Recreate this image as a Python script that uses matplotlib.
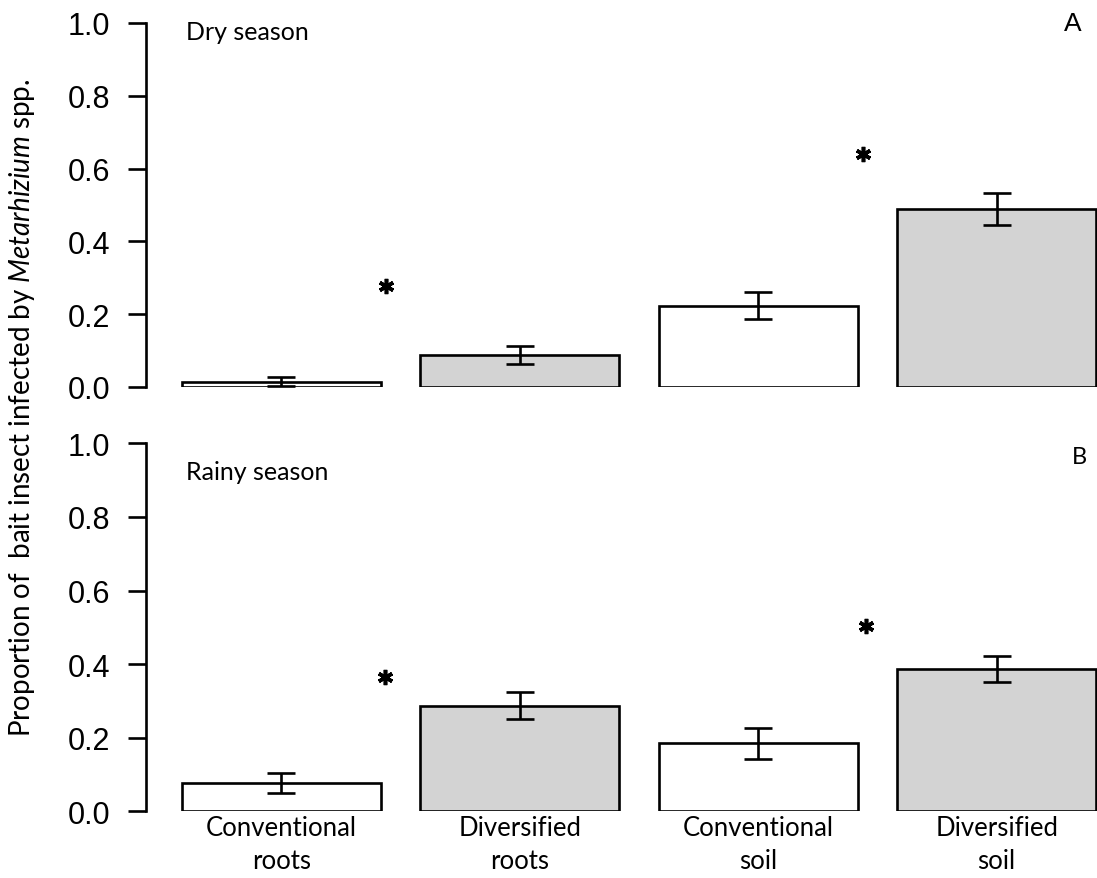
import numpy as np
import matplotlib.pyplot as plt

# bait insect infection by Metarhizium, two seasons, four habitat groups
groups = ['Conventional\nroots', 'Diversified\nroots', 'Conventional\nsoil', 'Diversified\nsoil']
fills = ['white', 'lightgray', 'white', 'lightgray']

dry_mean = [0.015, 0.088, 0.223, 0.489]
dry_se = [0.012, 0.024, 0.037, 0.045]
rainy_mean = [0.076, 0.287, 0.185, 0.386]
rainy_se = [0.027, 0.036, 0.042, 0.035]

# significance stars (x in bar units, y in proportion)
dry_star_x = [1.225, 3.625]
dry_star_y = [0.278, 0.64]
rainy_star_x = [1.22, 3.64]
rainy_star_y = [0.365, 0.503]

plt.rcParams['mathtext.fontset'] = 'custom'
plt.rcParams['mathtext.rm'] = 'Lato'
plt.rcParams['mathtext.it'] = 'Lato:italic'

lab_font = 'Lato'
num_font = 'Liberation Sans'

# barplot-style positions: width 1, space 0.2
x = 0.2 + np.arange(4) * 1.2 + 0.5

fig = plt.figure(figsize=(10.97, 8.79), dpi=100)
ax1 = fig.add_axes([0.1331, 0.5586, 0.8669, 0.4141])
ax2 = fig.add_axes([0.1331, 0.0759, 0.8669, 0.4186])


def panel(ax, mean, se, sx, sy, title, letter, letter_font, letter_size):
    ax.bar(x, mean, width=1.0, color=fills, edgecolor='black', linewidth=1.9, zorder=2)
    ax.errorbar(x, mean, yerr=se, fmt='none', ecolor='black', elinewidth=1.9,
                capsize=10, capthick=1.9, zorder=3)
    ax.plot(sx, sy, linestyle='none', marker=(6, 2, 0), markersize=11,
            markeredgewidth=2.6, color='black', zorder=3)
    ax.set_xlim(0.019, 4.805)
    ax.set_ylim(0, 1)
    ax.set_yticks(np.arange(0, 1.01, 0.2))
    ax.set_yticklabels(['%.1f' % v for v in np.arange(0, 1.01, 0.2)],
                       family=num_font, fontsize=22)
    for s in ['top', 'right', 'bottom']:
        ax.spines[s].set_visible(False)
    ax.spines['left'].set_linewidth(1.9)
    ax.tick_params(axis='y', length=13, width=1.9, pad=13)
    ax.text(0.22, title[1], title[0], ha='left', va='baseline',
            fontsize=18, family=lab_font)
    ax.text(letter[0], letter[1], letter[2], ha='center', va='center',
            fontsize=letter_size, family=letter_font)


panel(ax1, dry_mean, dry_se, dry_star_x, dry_star_y,
      ('Dry season', 0.956), (4.685, 1.0, 'A'), num_font, 19)
panel(ax2, rainy_mean, rainy_se, rainy_star_x, rainy_star_y,
      ('Rainy season', 0.903), (4.716, 0.964, 'B'), lab_font, 17)

ax1.set_xticks([])
ax2.set_xticks(x)
ax2.set_xticklabels(groups, family=lab_font, fontsize=18.5, linespacing=1.4)
ax2.tick_params(axis='x', length=0, pad=3)

fig.text(22 / 1097, 0.536,
         r'Proportion of  bait insect infected by $\it{Metarhizium}$ spp.',
         rotation=90, ha='center', va='center', fontsize=20, family=lab_font)

plt.savefig('out.png', dpi=100)
